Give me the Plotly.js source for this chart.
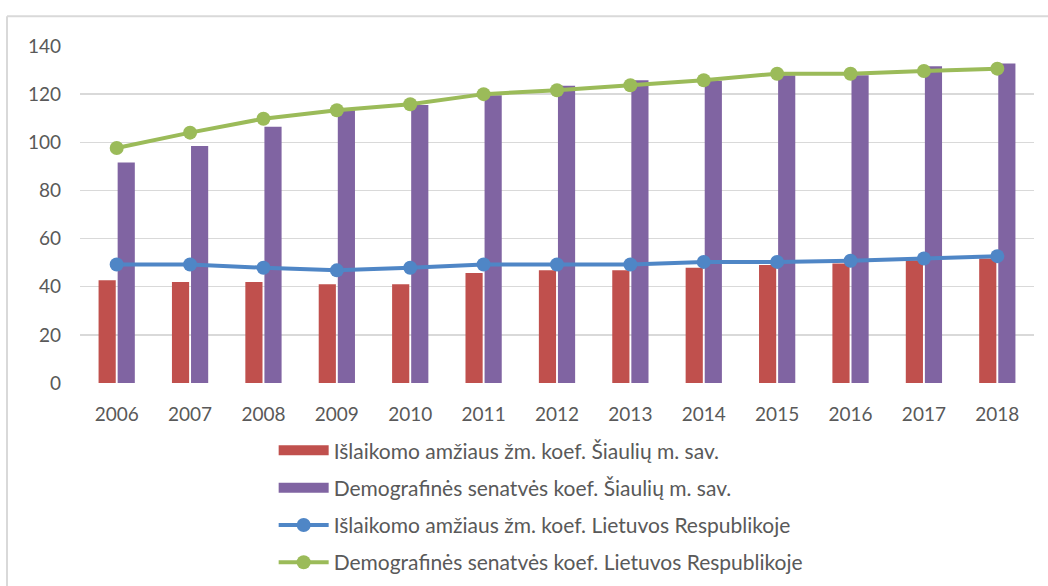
<!DOCTYPE html>
<html>
<head>
<meta charset="utf-8">
<script src="https://cdn.plot.ly/plotly-3.0.1.min.js"></script>
<style>html,body{margin:0;padding:0;background:#fff;}#chart{width:1048px;height:586px;}</style>
</head>
<body>
<div id="chart"></div>
<script>
const years = ['2006','2007','2008','2009','2010','2011','2012','2013','2014','2015','2016','2017','2018'];
const islaikomoSiauliai = [42.7, 42, 42, 41, 41, 45.7, 46.8, 46.8, 47.9, 49, 49.6, 51, 51.7];
const demografinesSiauliai = [91.6, 98.5, 106.5, 113.3, 115.5, 119.5, 123.5, 125.8, 125.6, 127.8, 127.8, 131.6, 132.7];
const islaikomoLietuva = [49.2, 49.2, 47.9, 46.8, 47.9, 49.2, 49.2, 49.2, 50.3, 50.3, 50.8, 51.7, 52.7];
const demografinesLietuva = [97.6, 104, 109.8, 113.3, 115.8, 120, 121.6, 123.7, 125.8, 128.5, 128.5, 129.6, 130.6];

const names = [
  'Išlaikomo amžiaus žm. koef. Šiaulių m. sav.',
  'Demografinės senatvės koef. Šiaulių m. sav.',
  'Išlaikomo amžiaus žm. koef. Lietuvos Respublikoje',
  'Demografinės senatvės koef. Lietuvos Respublikoje'
];
const colors = ['#C0504D', '#8064A2', '#4F86C6', '#9BBB59'];

const data = [
  {type:'bar', x:years, y:islaikomoSiauliai, name:names[0], marker:{color:colors[0]}, legendgroup:'a', showlegend:false},
  {type:'bar', x:years, y:demografinesSiauliai, name:names[1], marker:{color:colors[1]}, legendgroup:'b', showlegend:false},
  // legend-only entries drawn as wide rectangles for the bar series
  {type:'scatter', mode:'lines', x:[null], y:[null], name:names[0], legendgroup:'a', line:{color:colors[0], width:14}, hoverinfo:'skip'},
  {type:'scatter', mode:'lines', x:[null], y:[null], name:names[1], legendgroup:'b', line:{color:colors[1], width:14}, hoverinfo:'skip'},
  {type:'scatter', mode:'lines+markers', x:years, y:islaikomoLietuva, name:names[2], legendgroup:'c',
   line:{color:colors[2], width:4}, marker:{color:colors[2], size:14}},
  {type:'scatter', mode:'lines+markers', x:years, y:demografinesLietuva, name:names[3], legendgroup:'d',
   line:{color:colors[3], width:4}, marker:{color:colors[3], size:14}}
];

const layout = {
  width:1048, height:586,
  margin:{l:80, r:14, t:46, b:203, autoexpand:false},
  paper_bgcolor:'#fff', plot_bgcolor:'#fff',
  font:{family:'Lato, "Open Sans", sans-serif', size:19, color:'#595959'},
  barmode:'group', bargap:0.48, bargroupgap:0.1,
  showlegend:true,
  legend:{orientation:'v', x:0.203, xanchor:'left', y:-0.14, yanchor:'top',
          font:{size:21, color:'#595959'}, tracegroupgap:7, itemwidth:50, traceorder:'grouped'},
  xaxis:{type:'category', range:[-0.5, years.length - 0.5], automargin:false, showgrid:false, zeroline:false, showline:false,
         ticks:'', ticklabelstandoff:18, tickfont:{size:19, color:'#595959'}},
  yaxis:{range:[0,140], dtick:20, automargin:false, showgrid:true, gridcolor:'#D9D9D9', gridwidth:1.5, zeroline:false,
         showline:false, ticks:'', ticklabelstandoff:18, tickfont:{size:19, color:'#595959'}},
  shapes:[
    {type:'line', xref:'paper', yref:'paper', x0:-0.0765, x1:1.02, y0:1.088, y1:1.088, line:{color:'#D9D9D9', width:2}},
    {type:'line', xref:'paper', yref:'paper', x0:-0.0765, x1:-0.0765, y0:1.088, y1:-0.65, line:{color:'#D9D9D9', width:2}}
  ]
};

Plotly.newPlot('chart', data, layout, {displayModeBar:false, staticPlot:true});
</script>
</body>
</html>
